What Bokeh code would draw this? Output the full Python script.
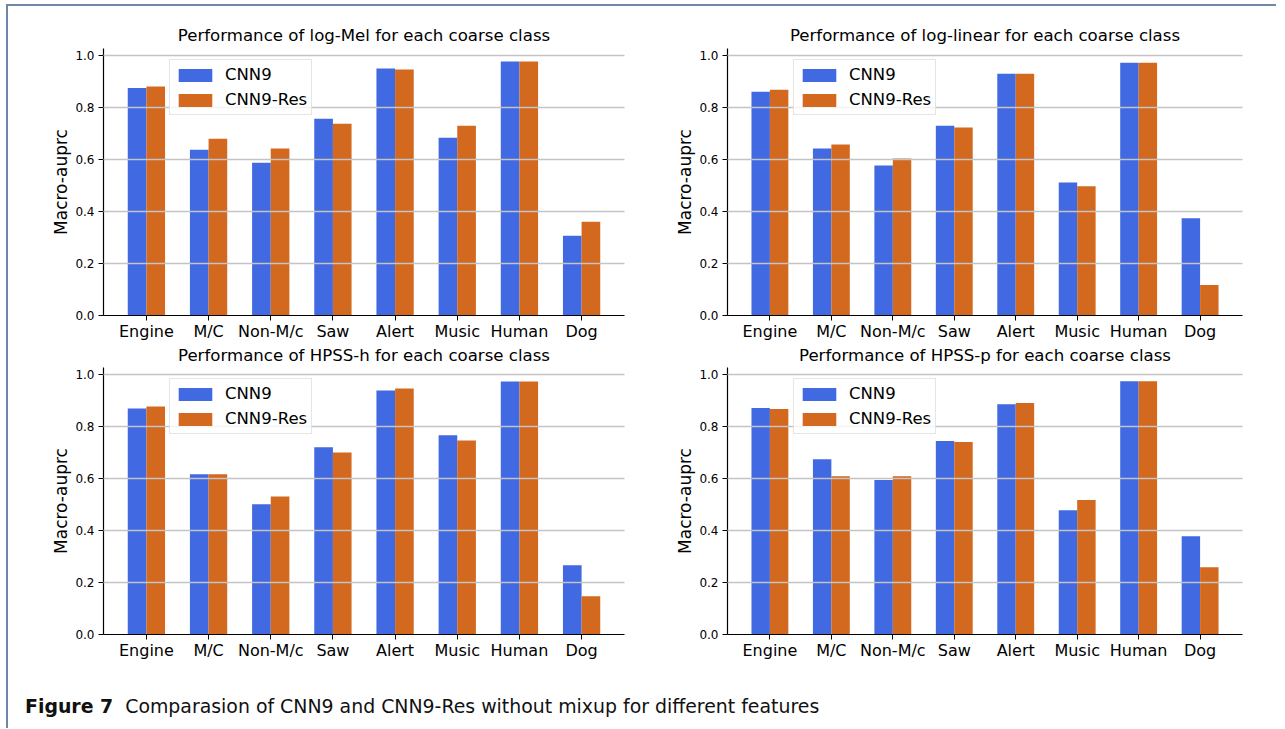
from bokeh.plotting import figure
from bokeh.models import (ColumnDataSource, FixedTicker, PrintfTickFormatter, Range1d,
                          Legend, LegendItem, Div, Title)
from bokeh.layouts import column, row
from bokeh.transform import dodge
from bokeh.embed import file_html
from bokeh.resources import INLINE

categories = ["Engine", "M/C", "Non-M/c", "Saw", "Alert", "Music", "Human", "Dog"]
series_names = ["CNN9", "CNN9-Res"]
features = ["log-Mel", "log-linear", "HPSS-h", "HPSS-p"]

logmel_cnn9 = [0.875, 0.638, 0.588, 0.757, 0.950, 0.684, 0.977, 0.307]
logmel_res = [0.881, 0.680, 0.642, 0.738, 0.946, 0.730, 0.977, 0.361]
loglinear_cnn9 = [0.861, 0.642, 0.577, 0.730, 0.930, 0.512, 0.972, 0.374]
loglinear_res = [0.868, 0.658, 0.604, 0.723, 0.930, 0.497, 0.972, 0.117]
hpssh_cnn9 = [0.869, 0.616, 0.501, 0.720, 0.939, 0.766, 0.973, 0.266]
hpssh_res = [0.877, 0.616, 0.531, 0.700, 0.946, 0.746, 0.973, 0.147]
hpssp_cnn9 = [0.871, 0.674, 0.594, 0.744, 0.886, 0.478, 0.974, 0.378]
hpssp_res = [0.867, 0.609, 0.609, 0.740, 0.890, 0.517, 0.974, 0.259]

y_ticks = [0.0, 0.2, 0.4, 0.6, 0.8, 1.0]
y_label = "Macro-auprc"
caption_bold = "Figure 7"
caption_text = "Comparasion of CNN9 and CNN9-Res without mixup for different features"

BLUE = "#4169E1"
ORANGE = "#D2691E"
FONT = "DejaVu Sans"


def title_text(feature):
    return "Performance of %s for each coarse class" % feature


def make_title(text, standoff):
    return Title(text=text, text_font=FONT, text_font_size="16.6px",
                 text_font_style="normal", text_color="black",
                 align="center", standoff=standoff)


def make_panel(feature, cnn9, res, width, height, mbl, mbr, mbt, mbb,
               own_title=True, title_below=None):
    src = ColumnDataSource(dict(x=list(range(len(categories))), cnn9=cnn9, res=res))
    x0, x1 = -0.69, len(categories) - 1 + 0.69
    p = figure(width=width, height=height, output_backend="svg", toolbar_location=None,
               x_range=Range1d(x0, x1),
               y_range=Range1d(0, 1.027),
               min_border_left=mbl, min_border_right=mbr,
               min_border_top=mbt, min_border_bottom=mbb)
    p.outline_line_color = None
    p.background_fill_color = "white"
    p.border_fill_color = "white"

    if own_title:
        p.add_layout(make_title(title_text(feature), 8), "above")

    r1 = p.vbar(x=dodge("x", -0.15), top="cnn9", width=0.3, source=src,
                fill_color=BLUE, line_color=None)
    r2 = p.vbar(x=dodge("x", 0.15), top="res", width=0.3, source=src,
                fill_color=ORANGE, line_color=None)

    p.xgrid.visible = False
    p.ygrid.ticker = FixedTicker(ticks=y_ticks)
    p.ygrid.grid_line_color = "#c4c4c4"
    p.ygrid.grid_line_width = 1.6
    p.ygrid.level = "guide"

    p.xaxis.ticker = FixedTicker(ticks=list(range(len(categories))))
    p.xaxis.major_label_overrides = {i: c for i, c in enumerate(categories)}
    p.xaxis.major_label_text_font = FONT
    p.xaxis.major_label_text_font_size = "16px"
    p.xaxis.major_label_text_color = "black"
    p.xaxis.major_label_standoff = 1
    p.xaxis.major_tick_out = 5
    p.xaxis.major_tick_in = 0
    p.xaxis.minor_tick_line_color = None
    p.xaxis.axis_line_color = "black"
    p.xaxis.axis_line_width = 1.2
    p.xaxis.major_tick_line_color = "black"

    # title of the panel underneath (drawn in this canvas so that it can sit
    # right under the category labels, as in the reference)
    if title_below is not None:
        p.add_layout(make_title(title_below, 1), "below")

    p.yaxis.ticker = FixedTicker(ticks=y_ticks)
    p.yaxis.formatter = PrintfTickFormatter(format="%.1f")
    p.yaxis.major_label_text_font = FONT
    p.yaxis.major_label_text_font_size = "12px"
    p.yaxis.major_label_text_color = "black"
    p.yaxis.major_label_standoff = 4
    p.yaxis.major_tick_out = 5
    p.yaxis.major_tick_in = 0
    p.yaxis.minor_tick_line_color = None
    p.yaxis.axis_line_color = "black"
    p.yaxis.axis_line_width = 1.2
    p.yaxis.major_tick_line_color = "black"
    p.yaxis.axis_label = y_label
    p.yaxis.axis_label_text_font = FONT
    p.yaxis.axis_label_text_font_size = "17px"
    p.yaxis.axis_label_text_font_style = "normal"
    p.yaxis.axis_label_text_color = "black"
    p.yaxis.axis_label_standoff = 1

    legend = Legend(items=[LegendItem(label=series_names[0], renderers=[r1]),
                           LegendItem(label=series_names[1], renderers=[r2])],
                    location=(66, 200))
    legend.label_text_font = FONT
    legend.label_text_font_size = "16.5px"
    legend.label_text_color = "black"
    legend.label_height = 21
    legend.glyph_height = 16
    legend.glyph_width = 42
    legend.label_standoff = 9
    legend.spacing = 4
    legend.padding = 4
    legend.margin = 0
    legend.border_line_color = "#cccccc"
    legend.border_line_width = 1.2
    legend.background_fill_alpha = 0.8
    p.add_layout(legend)
    return p


pa = make_panel(features[0], logmel_cnn9, logmel_res, 632, 359, 95, 16, 42, 50,
                title_below=title_text(features[2]))
pb = make_panel(features[1], loglinear_cnn9, loglinear_res, 636, 359, 87, 34, 42, 50,
                title_below=title_text(features[3]))
pc = make_panel(features[2], hpssh_cnn9, hpssh_res, 632, 303, 95, 16, 2, 34,
                own_title=False)
pd = make_panel(features[3], hpssp_cnn9, hpssp_res, 636, 303, 87, 34, 2, 34,
                own_title=False)

cap = Div(text="<b>%s</b>&nbsp;&nbsp;%s" % (caption_bold, caption_text),
          width=1000, height=50,
          styles={"font-family": "DejaVu Sans", "font-size": "18.9px",
                  "color": "#111", "padding-left": "12px", "padding-top": "20px"})

layout = column(row(pa, pb), row(pc, pd), cap,
                margin=(4, 0, 0, 6),
                styles={"border-left": "2px solid #6d86aa", "border-top": "2px solid #6d86aa"})

open("out.html", "w").write(file_html(layout, INLINE))
